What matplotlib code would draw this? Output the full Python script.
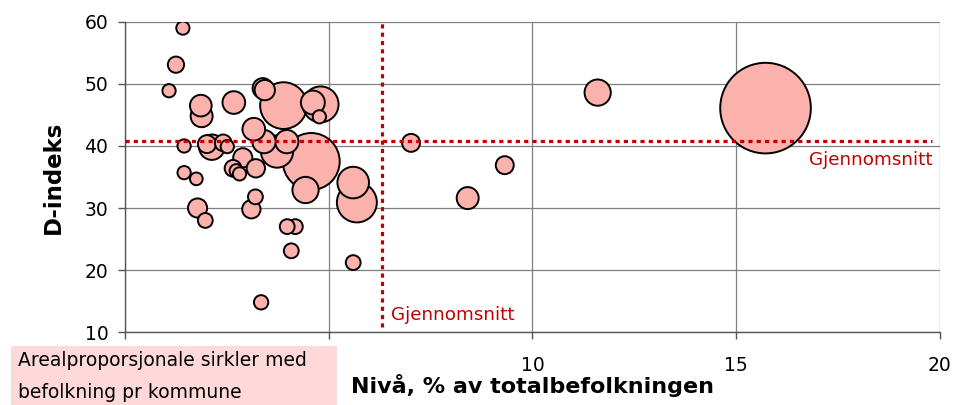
import numpy as np
import matplotlib
matplotlib.use("Agg")
import matplotlib.pyplot as plt
from matplotlib.patches import Rectangle

# nivå (% av totalbefolkningen), D-indeks og befolkning (tusen) pr kommune
niva = [1.42, 1.25, 1.08, 1.86, 1.88, 2.67, 3.38, 3.43, 3.89, 4.80, 4.61, 4.77,
        3.16, 1.45, 2.13, 2.01, 2.41, 2.51, 3.41, 3.73, 3.97, 4.57, 4.43, 5.60,
        5.69, 1.45, 1.75, 2.89, 2.65, 2.73, 2.81, 3.21, 3.20, 3.10, 1.78, 1.97,
        3.98, 4.18, 4.08, 5.60, 3.34, 7.02, 9.32, 8.41, 11.60, 15.72]
dindeks = [59.0, 53.1, 48.9, 46.5, 44.8, 47.0, 49.3, 49.0, 46.5, 46.7, 47.0, 44.7,
           42.7, 40.0, 39.8, 40.3, 40.5, 39.9, 40.7, 39.1, 40.7, 37.5, 32.9, 34.1,
           30.9, 35.7, 34.7, 38.1, 36.4, 36.0, 35.5, 36.4, 31.8, 29.8, 30.0, 28.0,
           27.0, 27.0, 23.1, 21.2, 14.8, 40.5, 36.9, 31.6, 48.6, 46.1]
befolkning = [12, 18, 12, 32, 33, 35, 28, 28, 149, 88, 39, 12,
              35, 12, 44, 22, 19, 12, 37, 71, 37, 221, 47, 68,
              109, 12, 11, 25, 19, 12, 12, 23, 15, 23, 25, 15,
              15, 15, 15, 15, 14, 22, 22, 33, 47, 560]

snitt_niva = 6.3
snitt_d = 40.8

xticks = [0, 5, 10, 15, 20]
yticks = [10, 20, 30, 40, 50, 60]

fig = plt.figure(figsize=(9.73, 4.05), dpi=100)
ax = fig.add_axes([0.1285, 0.180, 0.966 - 0.1285, 0.946 - 0.180])

# store sirkler tegnes først
order = np.argsort(befolkning)[::-1]
x = np.array(niva)[order]
y = np.array(dindeks)[order]
s = np.array(befolkning)[order] * 7.6
ax.scatter(x, y, s=s, facecolor="#FBB1AC", edgecolor="black", linewidth=1.4, zorder=3)

# gjennomsnittslinjer
red = "#C00000"
ax.plot([0, 19.8], [snitt_d, snitt_d], color=red, lw=2.3, linestyle=(0, (1.3, 1.3)), zorder=4)
ax.plot([snitt_niva, snitt_niva], [10.8, 60], color=red, lw=2.3, linestyle=(0, (1.3, 1.3)), zorder=4)
ax.text(snitt_niva + 0.22, 12.7, "Gjennomsnitt", color=red, fontsize=13.2, va="center", ha="left")
ax.text(19.82, 37.7, "Gjennomsnitt", color=red, fontsize=13.2, va="center", ha="right")

ax.set_xlim(0, 20)
ax.set_ylim(10, 60)
ax.set_xticks(xticks)
ax.set_xticklabels(["", "", "10", "15", "20"])
ax.set_yticks(yticks)
ax.grid(True, color="#7f7f7f", linewidth=0.9, zorder=0)
ax.set_axisbelow(True)
for side in ["top", "right"]:
    ax.spines[side].set_visible(False)
for side in ["left", "bottom"]:
    ax.spines[side].set_color("#555555")
    ax.spines[side].set_linewidth(1.0)
ax.tick_params(axis="y", direction="out", length=5, width=1, color="#555555", pad=7, labelsize=13.5)
ax.tick_params(axis="x", direction="out", length=5, width=1, color="#555555", pad=12, labelsize=13.5)

ax.set_xlabel("Nivå, % av totalbefolkningen", fontsize=16, fontweight="bold")
ax.xaxis.set_label_coords(0.5, -0.135)
ax.set_ylabel("D-indeks", fontsize=16.5, fontweight="bold")
ax.yaxis.set_label_coords(-0.074, 0.5)

# forklaringsboks
fig.patches.append(Rectangle((0.0113, 0.0), 0.335, 0.146, transform=fig.transFigure,
                             facecolor="#FFD9D9", edgecolor="none", zorder=5))
fig.text(0.0185, 0.111, "Arealproporsjonale sirkler med", fontsize=13.5, va="center", zorder=6)
fig.text(0.0185, 0.032, "befolkning pr kommune", fontsize=13.5, va="center", zorder=6)

fig.savefig("out.png", dpi=100)
